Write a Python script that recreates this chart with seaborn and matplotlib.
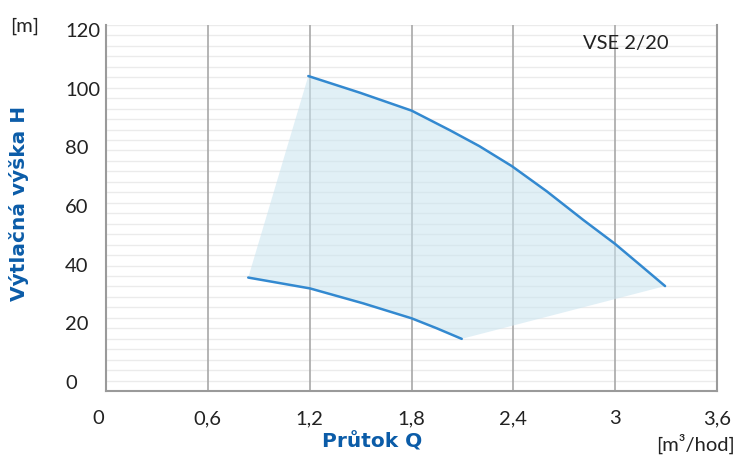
import numpy as np
import pandas as pd
import seaborn as sns
import matplotlib.pyplot as plt
from matplotlib.transforms import ScaledTranslation

# Data (Q in m3/hod, H in m)
upper_q = [1.192, 1.497, 1.801, 2.027, 2.200, 2.391, 2.597, 2.813, 2.999, 3.147, 3.294]
upper_h = [104.3, 98.6, 92.5, 85.8, 80.4, 73.6, 65.0, 55.2, 47.1, 39.9, 32.7]
lower_q = [0.838, 1.025, 1.202, 1.516, 1.801, 1.949, 2.096]
lower_h = [35.6, 33.7, 31.9, 26.8, 21.7, 18.3, 14.7]

x_ticks = [0, 0.6, 1.2, 1.8, 2.4, 3.0, 3.6]
x_labels = ["0", "0,6", "1,2", "1,8", "2,4", "3", "3,6"]
y_ticks = [0, 20, 40, 60, 80, 100, 120]

sns.set_style("white")
plt.rcParams["font.family"] = ["Lato", "DejaVu Sans"]

line_color = "#3389d0"
fill_color = "#c9e4f0"
label_blue = "#0b5ca8"
text_color = "#222222"

fig = plt.figure(figsize=(7.39, 4.55), dpi=100)
ax = fig.add_axes([106 / 739, 64 / 455, 611 / 739, 366 / 455])

ylim = (-3.07, 121.7)
ax.set_xlim(0, 3.6)
ax.set_ylim(*ylim)
ax.grid(False)

# faint horizontal lines and vertical grid
for y in np.linspace(ylim[0], ylim[1], 36):
    ax.axhline(y, color="#ebebeb", lw=1.0, zorder=0.5)
for x in x_ticks[1:-1]:
    ax.axvline(x, color="#a8a8a8", lw=1.2, zorder=0.8)

# working area
poly_q = [lower_q[0]] + upper_q + lower_q[::-1]
poly_h = [lower_h[0]] + upper_h + lower_h[::-1]
ax.fill(poly_q, poly_h, color=fill_color, alpha=0.55, lw=0, zorder=1)

upper = pd.DataFrame({"Q": upper_q, "H": upper_h})
lower = pd.DataFrame({"Q": lower_q, "H": lower_h})
sns.lineplot(data=upper, x="Q", y="H", ax=ax, color=line_color, lw=1.8, sort=False, zorder=3)
sns.lineplot(data=lower, x="Q", y="H", ax=ax, color=line_color, lw=1.8, sort=False, zorder=3)

ax.set_xticks(x_ticks)
ax.set_xticklabels(x_labels)
ax.set_yticks(y_ticks)
ax.tick_params(axis="both", which="both", length=0, labelsize=14.5, labelcolor=text_color)
ax.tick_params(axis="x", pad=14)
ax.tick_params(axis="y", pad=29.5)
for lab in ax.get_yticklabels():
    lab.set_horizontalalignment("left")
# the "0" on x sits a bit left of the axis origin
first = ax.get_xticklabels()[0]
first.set_transform(first.get_transform() + ScaledTranslation(-8 / 100, 0, fig.dpi_scale_trans))
ax.set_xlabel("")
ax.set_ylabel("")

for side in ["left", "bottom", "right"]:
    ax.spines[side].set_color("#9a9a9a")
    ax.spines[side].set_linewidth(1.5)
ax.spines["top"].set_visible(False)

fig.text(25 / 739, 1 - 26 / 455, "[m]", fontsize=14.5, color=text_color, ha="center", va="center")
fig.text(695 / 739, 1 - 444 / 455, "[m³/hod]", fontsize=14.5, color=text_color, ha="center", va="center")
fig.text(626 / 739, 1 - 44 / 455, "VSE 2/20", fontsize=14.5, color=text_color, ha="center", va="center")
fig.text(372 / 739, 1 - 442 / 455, "Průtok Q", fontsize=14.5, fontweight="bold", color=label_blue,
         ha="center", va="center", family="DejaVu Sans")
fig.text(19 / 739, 1 - 203 / 455, "Výtlačná výška H", fontsize=14.5, fontweight="bold", color=label_blue,
         ha="center", va="center", rotation=90, family="DejaVu Sans")

fig.savefig("out.png", dpi=100)
